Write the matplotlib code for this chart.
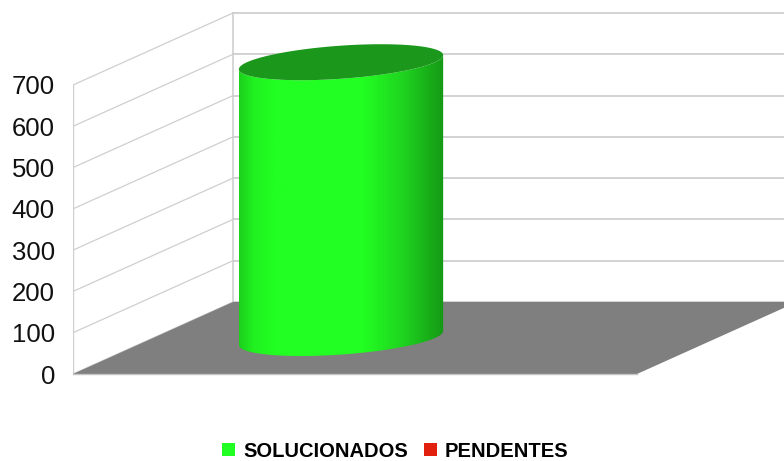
import numpy as np
import matplotlib
matplotlib.use('Agg')
import matplotlib.pyplot as plt
from matplotlib.patches import Polygon, Patch
from matplotlib.colors import LinearSegmentedColormap

# ---- data ----
categories = ['']
series_names = ['SOLUCIONADOS', 'PENDENTES']
series_values = [[668], [0]]
series_colors = ['#22ff22', '#e2200e']
y_ticks = [0, 100, 200, 300, 400, 500, 600, 700]

# ---- layout (pixels of the 784x461 canvas) ----
W, H = 784, 461
left_px, right_px = 73, 784
front_w_px = 564            # width of the front plane for one category
zero_px = 374               # y of value 0 on the front plane (from top)
ppv = 289 / 700             # pixels per value unit
DX = 160 / front_w_px       # depth offset in x data units
DY = 72 / ppv               # depth offset in value units
ylim = (-50, 882)

plt.rcParams['font.family'] = ['Liberation Sans', 'DejaVu Sans']

fig = plt.figure(figsize=(W / 100, H / 100), dpi=100)
bot = (H - zero_px) + ylim[0] * ppv
top = (H - zero_px) + ylim[1] * ppv
ax = fig.add_axes([left_px / W, bot / H, (right_px - left_px) / W, (top - bot) / H])
xmax = (right_px - left_px) / front_w_px
ax.set_xlim(0, xmax)
ax.set_ylim(*ylim)
for s in ax.spines.values():
    s.set_visible(False)
ax.set_xticks([])
ax.set_yticks(y_ticks)
ax.set_yticklabels([str(t) for t in y_ticks])
ax.tick_params(axis='y', length=0, pad=13, labelsize=18.5, labelcolor='#111111')

# ---- walls & grid ----
ncat = len(categories)
for v in y_ticks:
    ax.plot([0, DX], [v, v + DY], color='#cfcfcf', lw=0.9, zorder=0.5)
    ax.plot([DX, xmax], [v + DY, v + DY], color='#d2d2d2', lw=1.4, zorder=0.5)
ax.plot([0, 0], [0, y_ticks[-1]], color='#cfcfcf', lw=1.0, zorder=0.5)
ax.plot([DX, DX], [DY, DY + y_ticks[-1]], color='#cfcfcf', lw=1.2, zorder=0.5)

floor = Polygon([(0, 0), (ncat, 0), (ncat + DX, DY), (DX, DY)], closed=True,
                facecolor='#7f7f7f', edgecolor='none', zorder=1)
ax.add_patch(floor)
ax.plot([0, ncat], [0, 0], color='#c4c4c4', lw=1.0, zorder=1.1)

# ---- cylinders ----
nser = len(series_names)
group_w = 2 / 3
bar_w = group_w / nser
R = bar_w / 2
rho = 0.25
t = np.linspace(0, 2 * np.pi, 400)

def ellipse_xy(cu, v, tt):
    x = cu + 0.5 * DX + R * np.cos(tt) + rho * DX * np.sin(tt)
    y = v + 0.5 * DY + rho * DY * np.sin(tt)
    return x, y

grad_cmap = LinearSegmentedColormap.from_list('g', [
    (0.0, '#1cd01c'), (0.07, '#21f021'), (0.18, '#22ff22'), (0.6, '#22ff22'),
    (0.8, '#1fd41f'), (1.0, '#159915')])
top_col = '#1b981b'

for i in range(ncat):
    for j in range(nser):
        val = series_values[j][i]
        if val <= 0:
            continue
        cu = i + (1 - group_w) / 2 + (j + 0.5) * bar_w
        tr = np.arctan2(rho * DX, R)
        tf = np.linspace(tr - np.pi, tr, 200)
        bx, by = ellipse_xy(cu, 0, tf)
        tx, ty = ellipse_xy(cu, val, tf[::-1])
        body = Polygon(np.column_stack([np.r_[bx, tx], np.r_[by, ty]]), closed=True,
                       facecolor='none', edgecolor='none', zorder=2)
        ax.add_patch(body)
        x0, x1 = bx.min(), bx.max()
        grad = np.linspace(0, 1, 256)[None, :]
        im = ax.imshow(grad, cmap=grad_cmap, extent=[x0, x1, by.min(), ty.max()],
                       aspect='auto', origin='lower', zorder=2, interpolation='bilinear')
        im.set_clip_path(body)
        ex, ey = ellipse_xy(cu, val, t)
        ax.add_patch(Polygon(np.column_stack([ex, ey]), closed=True,
                             facecolor=top_col, edgecolor='none', zorder=3))

ax.set_xlim(0, xmax)
ax.set_ylim(*ylim)

# ---- legend ----
handles = [Patch(facecolor=c, edgecolor='none') for c in series_colors]
fig.legend(handles, series_names, loc='center', ncol=nser,
           bbox_to_anchor=(0.504, (H - 451) / H), frameon=False,
           prop={'family': 'Liberation Sans', 'weight': 'bold', 'size': 14.5},
           handlelength=0.65, handleheight=0.65, handletextpad=0.4,
           columnspacing=0.8)

fig.savefig('out.png', dpi=100)
